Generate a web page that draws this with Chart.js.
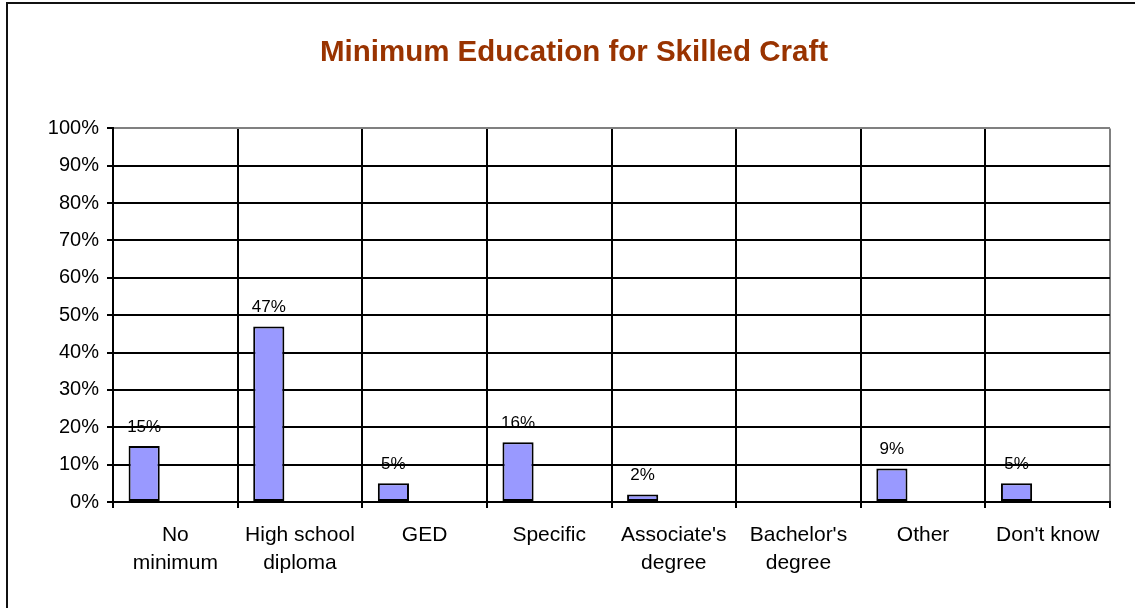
<!DOCTYPE html>
<html lang="en">

<head>
    <meta charset="UTF-8">
    <title>Minimum Education for Skilled Craft</title>
    <script src="https://cdn.jsdelivr.net/npm/chart.js@4.4.1/dist/chart.umd.min.js"></script>
    <style>
        html, body { margin: 0; padding: 0; background: #fff; overflow: hidden; }
        .frame { position: absolute; left: 6px; top: 2px; width: 1200px; height: 700px; border: 2px solid #111; pointer-events: none; }
        canvas { position: absolute; left: 0; top: 0; }
    </style>
</head>

<body>
    <canvas id="educationChart" width="1135" height="608"></canvas>
    <div class="frame"></div>

    <script>
        const categories = [
            ['No', 'minimum'],
            ['High school', 'diploma'],
            ['GED'],
            ['Specific'],
            ["Associate's", 'degree'],
            ["Bachelor's", 'degree'],
            ['Other'],
            ["Don't know"],
        ];
        const shares = [15, 47, 5, 16, 2, null, 9, 5];
        // the two unused series only keep their slots in each group
        const secondSeries = [null, null, null, null, null, null, null, null];
        const thirdSeries = [null, null, null, null, null, null, null, null];
        const percentTicks = [0, 10, 20, 30, 40, 50, 60, 70, 80, 90, 100];

        const FONT = 'Liberation Sans';

        const valueLabels = {
            id: 'valueLabels',
            afterDatasetsDraw(chart) {
                const ctx = chart.ctx;
                const meta = chart.getDatasetMeta(0);
                ctx.save();
                ctx.font = `17px "${FONT}"`;
                ctx.fillStyle = '#000';
                ctx.textAlign = 'center';
                ctx.textBaseline = 'middle';
                meta.data.forEach((bar, i) => {
                    if (shares[i] == null) return;
                    ctx.fillText(shares[i] + '%', bar.x, bar.y - 19);
                });
                ctx.restore();
            }
        };

        const barStyle = { backgroundColor: '#9999ff', borderColor: '#000', borderWidth: 2, borderSkipped: false };

        new Chart(document.getElementById('educationChart'), {
            type: 'bar',
            data: {
                labels: categories,
                datasets: [
                    { data: shares, ...barStyle },
                    { data: secondSeries, ...barStyle },
                    { data: thirdSeries, ...barStyle },
                ],
            },
            options: {
                responsive: false,
                animation: false,
                devicePixelRatio: 1,
                layout: { padding: { left: 38, right: 25, top: 0, bottom: 0 } },
                categoryPercentage: 0.75,
                barPercentage: 1,
                plugins: {
                    legend: { display: false },
                    tooltip: { enabled: false },
                    title: {
                        display: true,
                        text: 'Minimum Education for Skilled Craft',
                        color: '#993300',
                        font: { family: FONT, size: 29.5, weight: 'bold' },
                        padding: { top: 35, bottom: 58 },
                    },
                },
                scales: {
                    x: {
                        grid: {
                            offset: true,
                            color: c => c.tick ? '#000' : '#808080',
                            lineWidth: 2,
                            tickColor: '#000',
                            tickLength: 6,
                        },
                        border: { color: '#000', width: 2 },
                        ticks: {
                            color: '#000',
                            font: { family: FONT, size: 21, lineHeight: 1.3 },
                            padding: 14,
                            maxRotation: 0,
                            autoSkip: false,
                        },
                        afterFit: scale => { scale.height = 106; },
                    },
                    y: {
                        min: 0,
                        max: 100,
                        afterBuildTicks: scale => { scale.ticks = percentTicks.map(v => ({ value: v })); },
                        grid: {
                            color: c => c.tick && c.tick.value === 100 ? '#808080' : '#000',
                            lineWidth: 2,
                            tickColor: '#000',
                            tickLength: 6,
                        },
                        border: { color: '#000', width: 2 },
                        ticks: {
                            color: '#000',
                            font: { family: FONT, size: 20 },
                            padding: 8,
                            callback: v => v + '%',
                        },
                        afterFit: scale => { scale.width = 75; },
                    },
                },
            },
            plugins: [valueLabels],
        });
    </script>
</body>

</html>
